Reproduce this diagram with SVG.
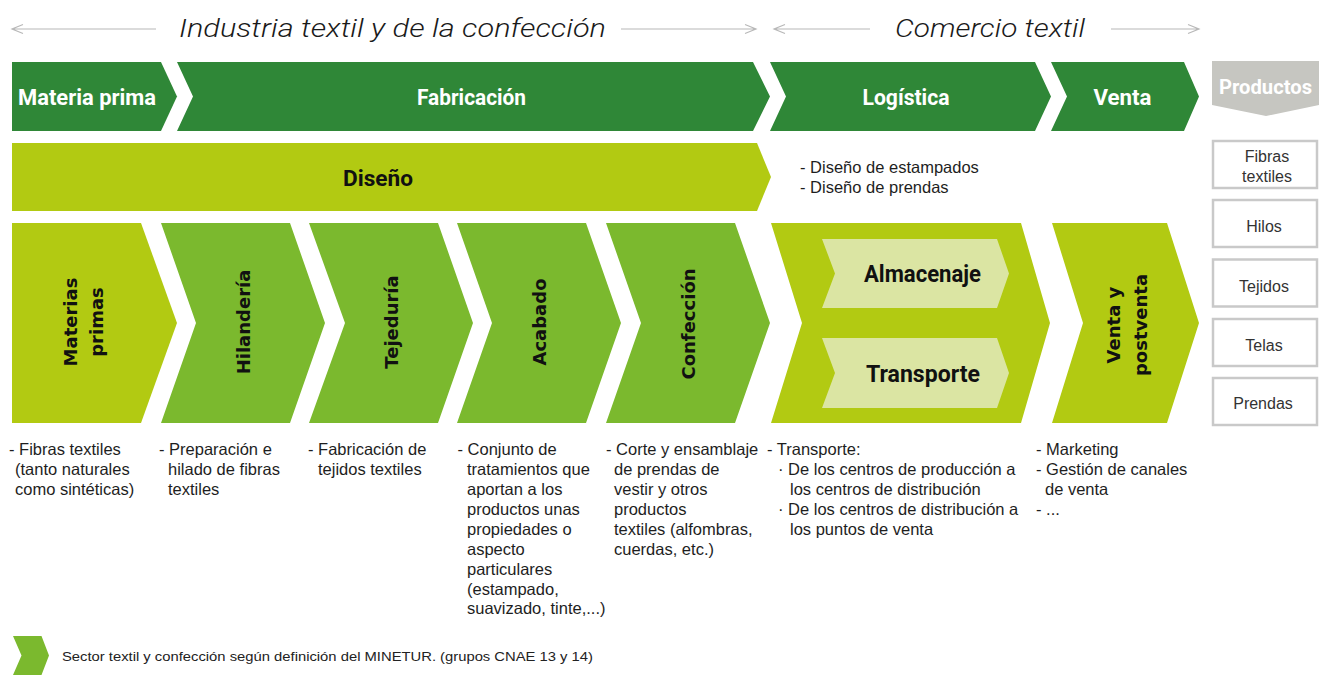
<svg xmlns="http://www.w3.org/2000/svg" width="1319" height="675" viewBox="0 0 1319 675">
<defs>
<style>
.dk{fill:#2f8737}
.lm{fill:#b2ca12}
.md{fill:#7bb92e}
.pl{fill:#dbe5a3}
.gy{fill:#c6c6c1}
.hl{font-family:Roboto,"Liberation Sans",sans-serif;font-weight:700;text-anchor:middle;dominant-baseline:central}
.wt{fill:#ffffff}
.bk{fill:#111111}
.vt{font-family:"DejaVu Sans",Verdana,sans-serif;font-weight:700;font-size:18px;fill:#111111;text-anchor:middle;dominant-baseline:central}
.hd{font-family:Roboto,"Liberation Sans",sans-serif;font-style:italic;font-weight:300;font-size:26px;fill:#1a1a1a;text-anchor:middle;dominant-baseline:central}
.tx{font-family:"Liberation Sans",Arial,sans-serif;font-size:16.5px;fill:#1e1e1e}
.pt{font-family:"Liberation Sans",Arial,sans-serif;font-size:16px;fill:#333333;text-anchor:middle;dominant-baseline:central}
.ln{stroke:#b8b8b8;stroke-width:1.2;fill:none}
.bx{fill:#ffffff;stroke:#c9c9c9;stroke-width:2.5}
</style>
</defs>

<g id="connectors">
<path class="ln" d="M12,29 H156 M23,24.5 L12,29 L23,33.5"/>
<path class="ln" d="M621,29 H756 M745,24.5 L756,29 L745,33.5"/>
<path class="ln" d="M774,29 H870 M785,24.5 L774,29 L785,33.5"/>
<path class="ln" d="M1111,29 H1199 M1188,24.5 L1199,29 L1188,33.5"/>
</g>

<g id="header">
<text class="hd" x="392.5" y="28" textLength="427" lengthAdjust="spacingAndGlyphs">Industria textil y de la confección</text>
<text class="hd" x="990" y="28" textLength="190" lengthAdjust="spacingAndGlyphs">Comercio textil</text>
</g>

<g id="materia-prima">
<polygon class="dk" points="12,62 161,62 177,96.5 161,131 12,131"/>
<text class="hl wt" x="87" y="97" font-size="22" textLength="138" lengthAdjust="spacingAndGlyphs">Materia prima</text>
</g>
<g id="fabricacion">
<polygon class="dk" points="177,62 753,62 770,96.5 753,131 177,131 193,96.5"/>
<text class="hl wt" x="471.5" y="97" font-size="22" textLength="109" lengthAdjust="spacingAndGlyphs">Fabricación</text>
</g>
<g id="logistica">
<polygon class="dk" points="770,62 1035,62 1051,96.5 1035,131 770,131 786,96.5"/>
<text class="hl wt" x="906" y="97" font-size="22" textLength="87" lengthAdjust="spacingAndGlyphs">Logística</text>
</g>
<g id="venta">
<polygon class="dk" points="1051,62 1184,62 1199,96.5 1184,131 1051,131 1067,96.5"/>
<text class="hl wt" x="1122.5" y="97" font-size="22" textLength="58" lengthAdjust="spacingAndGlyphs">Venta</text>
</g>
<g id="productos">
<polygon class="gy" points="1212,61 1319,61 1319,105 1266,116 1212,105"/>
<text class="hl wt" x="1265.5" y="87" font-size="21" textLength="93" lengthAdjust="spacingAndGlyphs">Productos</text>
</g>

<g id="diseno">
<polygon class="lm" points="12,143 757,143 771,177 757,211 12,211"/>
<text class="hl bk" x="378" y="178" font-size="22" textLength="70" lengthAdjust="spacingAndGlyphs">Diseño</text>
</g>
<g id="diseno-texto">
<text class="tx" x="800" y="173">- Diseño de estampados</text>
<text class="tx" x="800" y="193">- Diseño de prendas</text>
</g>

<g id="materias-primas">
<polygon class="lm" points="12,223 141,223 177,323 141,423 12,423"/>
<text class="vt" transform="rotate(-90 70 322)" x="70" y="322">Materias</text>
<text class="vt" transform="rotate(-90 96 322)" x="96" y="322">primas</text>
</g>
<g id="hilanderia">
<polygon class="md" points="161,223 290,223 325,323 290,423 161,423 196,323"/>
<text class="vt" transform="rotate(-90 243 322)" x="243" y="322">Hilandería</text>
</g>
<g id="tejeduria">
<polygon class="md" points="309,223 438,223 473,323 438,423 309,423 345,323"/>
<text class="vt" transform="rotate(-90 391 322)" x="391" y="322">Tejeduría</text>
</g>
<g id="acabado">
<polygon class="md" points="457,223 586,223 621,323 586,423 457,423 492,323"/>
<text class="vt" transform="rotate(-90 539.5 322)" x="539.5" y="322">Acabado</text>
</g>
<g id="confeccion">
<polygon class="md" points="606,223 735,223 770,323 735,423 606,423 641,323"/>
<text class="vt" transform="rotate(-90 688.5 324)" x="688.5" y="324">Confección</text>
</g>
<g id="logistica-detalle">
<polygon class="lm" points="771,223 1021,223 1050,323 1021,423 771,423 802,323"/>
</g>
<g id="almacenaje">
<polygon class="pl" points="822,239 997,239 1009,273.5 997,308 822,308 835,273.5"/>
<text class="hl bk" x="922.5" y="274" font-size="23" textLength="117" lengthAdjust="spacingAndGlyphs">Almacenaje</text>
</g>
<g id="transporte">
<polygon class="pl" points="822,338 997,338 1009,373 997,408 822,408 835,373"/>
<text class="hl bk" x="923" y="374" font-size="23" textLength="114" lengthAdjust="spacingAndGlyphs">Transporte</text>
</g>
<g id="venta-postventa">
<polygon class="lm" points="1052,223 1167,223 1199,323 1167,423 1052,423 1083,323"/>
<text class="vt" transform="rotate(-90 1113.5 325)" x="1113.5" y="325">Venta y</text>
<text class="vt" transform="rotate(-90 1140 325)" x="1140" y="325">postventa</text>
</g>

<g id="producto-fibras">
<rect class="bx" x="1213" y="141" width="104" height="47"/>
<text class="pt" x="1267" y="156">Fibras</text>
<text class="pt" x="1267" y="176">textiles</text>
</g>
<g id="producto-hilos">
<rect class="bx" x="1213" y="200" width="104" height="47"/>
<text class="pt" x="1264" y="226">Hilos</text>
</g>
<g id="producto-tejidos">
<rect class="bx" x="1213" y="259.5" width="104" height="47"/>
<text class="pt" x="1264" y="286">Tejidos</text>
</g>
<g id="producto-telas">
<rect class="bx" x="1213" y="319" width="104" height="47"/>
<text class="pt" x="1264" y="345">Telas</text>
</g>
<g id="producto-prendas">
<rect class="bx" x="1213" y="378" width="104" height="47"/>
<text class="pt" x="1263" y="403">Prendas</text>
</g>

<g id="descripciones">
<text class="tx" x="9" y="455">- Fibras textiles</text>
<text class="tx" x="15" y="475">(tanto naturales</text>
<text class="tx" x="15" y="495">como sintéticas)</text>

<text class="tx" x="159" y="455">- Preparación e</text>
<text class="tx" x="168" y="475">hilado de fibras</text>
<text class="tx" x="168" y="495">textiles</text>

<text class="tx" x="308" y="455">- Fabricación de</text>
<text class="tx" x="318" y="475">tejidos textiles</text>

<text class="tx" x="457.5" y="455">- Conjunto de</text>
<text class="tx" x="467" y="475">tratamientos que</text>
<text class="tx" x="467" y="495">aportan a los</text>
<text class="tx" x="467" y="515">productos unas</text>
<text class="tx" x="467" y="535">propiedades o</text>
<text class="tx" x="467" y="555">aspecto</text>
<text class="tx" x="467" y="575">particulares</text>
<text class="tx" x="467" y="595">(estampado,</text>
<text class="tx" x="467" y="614">suavizado, tinte,...)</text>

<text class="tx" x="606" y="455">- Corte y ensamblaje</text>
<text class="tx" x="614" y="475">de prendas de</text>
<text class="tx" x="614" y="495">vestir y otros</text>
<text class="tx" x="614" y="515">productos</text>
<text class="tx" x="614" y="535">textiles (alfombras,</text>
<text class="tx" x="614" y="555">cuerdas, etc.)</text>

<text class="tx" x="767" y="455">- Transporte:</text>
<text class="tx" x="778" y="475">·  De los centros de producción a</text>
<text class="tx" x="790" y="495">los centros de distribución</text>
<text class="tx" x="778" y="515">·  De los centros de distribución a</text>
<text class="tx" x="790" y="535">los puntos de venta</text>

<text class="tx" x="1036" y="455">- Marketing</text>
<text class="tx" x="1036" y="475">- Gestión de canales</text>
<text class="tx" x="1045" y="495">de venta</text>
<text class="tx" x="1036" y="515">- ...</text>
</g>

<g id="leyenda">
<polygon class="md" points="13,636 41.5,636 49,655.5 41.5,675 13,675 21.5,655.5"/>
<text x="62" y="661" font-family="'Liberation Sans',Arial,sans-serif" font-size="13.5" fill="#222222" textLength="531" lengthAdjust="spacingAndGlyphs">Sector textil y confección según definición del MINETUR. (grupos CNAE 13 y 14)</text>
</g>
</svg>
